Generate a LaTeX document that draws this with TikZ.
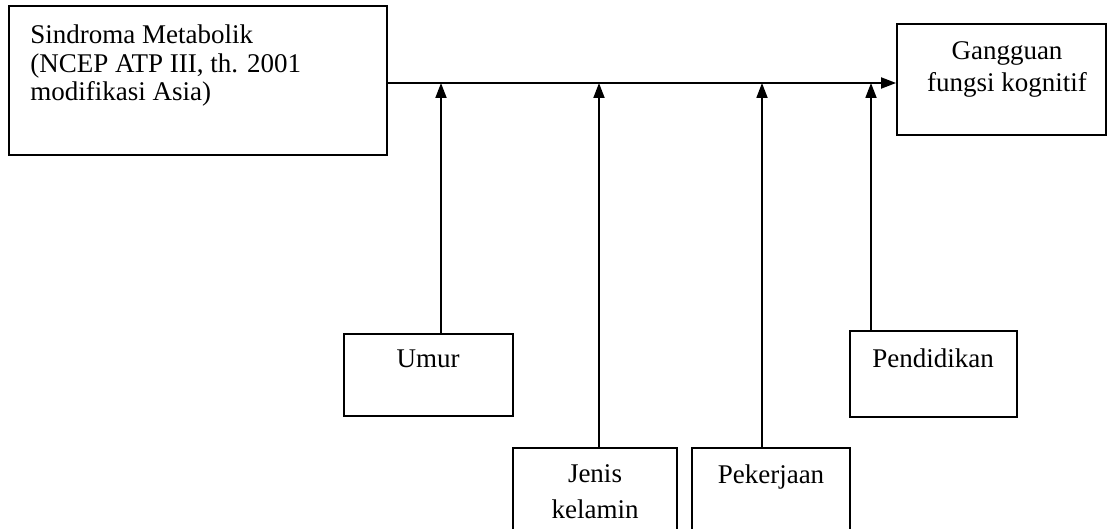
\documentclass[tikz,border=0pt]{standalone}
\usepackage{fontspec}
\setmainfont{Liberation Serif}
\usetikzlibrary{arrows.meta, fit}

\tikzset{
    box/.style={draw, line width=0.9pt, inner sep=0pt},
    txt/.style={inner sep=0pt, font=\fontsize{13.5}{14.25}\selectfont},
    arr/.style={line width=0.9pt, -{Triangle[length=7.5pt,width=5.5pt]}}
}

\begin{document}
\begin{tikzpicture}[x=0.5pt, y=-0.5pt]
    \useasboundingbox (0,0) rectangle (1109,529);
    \clip (0,0) rectangle (1109,529);

    % Main boxes
    \node[box, fit={(9,6) (387,155)}] (sindroma) {};
    \node[txt, anchor=north west, align=left] (sindromatxt) at (30,24.5)
        {Sindroma Metabolik\\(NCEP ATP III, th. 2001\\modifikasi Asia)};

    \node[box, fit={(897,24) (1106,135)}] (kognitif) {};
    \node[txt, anchor=north, align=center, font=\fontsize{13.5}{16}\selectfont] (kognitiftxt) at (1007,41.5)
        {Gangguan\\fungsi kognitif};

    % Confounding variables
    \node[box, fit={(344,334) (513,416)}] (umur) {};
    \node[txt, anchor=base] (umurtxt) at (428,368) {Umur};

    \node[box, fit={(513,448) (677,540)}] (jenis) {};
    \node[txt, anchor=north, align=center, font=\fontsize{13.5}{18}\selectfont] (jenistxt) at (595,464.5)
        {Jenis\\kelamin};

    \node[box, fit={(692,448) (850,540)}] (pekerjaan) {};
    \node[txt, anchor=base] (pekerjaantxt) at (771,483) {Pekerjaan};

    \node[box, fit={(850,331) (1017,417)}] (pendidikan) {};
    \node[txt, anchor=base] (pendidikantxt) at (933,368) {Pendidikan};

    % Points on the main line
    \coordinate (hub) at (897,83);
    \coordinate (m1) at (441,83);
    \coordinate (m2) at (599,83);
    \coordinate (m3) at (762,83);
    \coordinate (m4) at (871,83);

    % Main arrow
    \draw[arr] (sindroma.east |- hub) -- (kognitif.west |- hub);

    % Arrows from the confounders
    \draw[arr] (umur.north -| m1) -- (m1);
    \draw[arr] (jenis.north -| m2) -- (m2);
    \draw[arr] (pekerjaan.north -| m3) -- (m3);
    \draw[arr] (pendidikan.north -| m4) -- (m4);
\end{tikzpicture}
\end{document}
